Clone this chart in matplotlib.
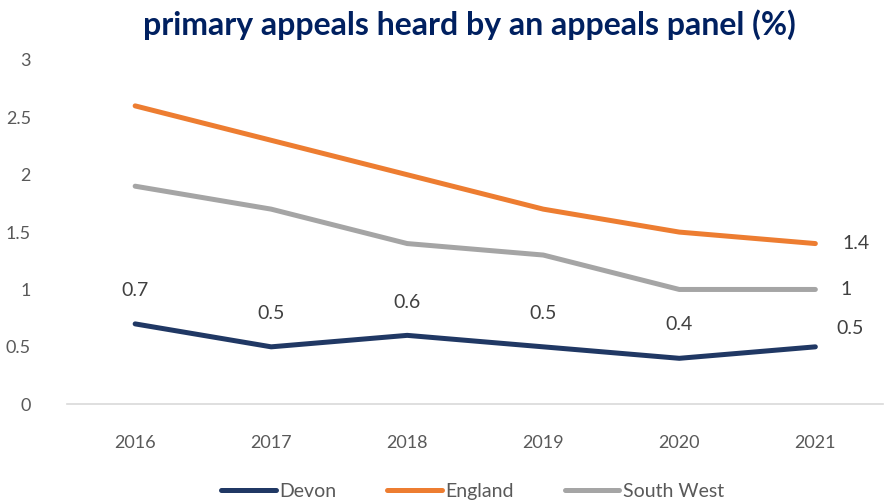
import numpy as np
import matplotlib.pyplot as plt

plt.rcParams['font.family'] = ['Lato', 'DejaVu Sans']

years = ["2016", "2017", "2018", "2019", "2020", "2021"]
devon = [0.7, 0.5, 0.6, 0.5, 0.4, 0.5]
england = [2.6, 2.3, 2.0, 1.7, 1.5, 1.4]
south_west = [1.9, 1.7, 1.4, 1.3, 1.0, 1.0]

navy = "#203864"
orange = "#ED7D31"
grey = "#A5A5A5"
text_col = "#595959"

fig = plt.figure(figsize=(8.95, 5.04), dpi=100)
ax = fig.add_axes([0.075, 0.198, 0.912, 0.683])

x = np.arange(len(years))
ax.plot(x, devon, color=navy, lw=3.6, solid_capstyle="round", label="Devon")
ax.plot(x, england, color=orange, lw=3.6, solid_capstyle="round", label="England")
ax.plot(x, south_west, color=grey, lw=3.6, solid_capstyle="round", label="South West")

# data labels
lbl = dict(ha="center", va="center", fontsize=14, color="#404040", textcoords="offset points")
for i, v in enumerate(devon[:-1]):
    ax.annotate(f"{v:g}", (x[i], v), xytext=(0, 24), **lbl)
ax.annotate(f"{devon[-1]:g}", (x[-1], devon[-1]), xytext=(25, 13), **lbl)
ax.annotate(f"{england[-1]:g}", (x[-1], england[-1]), xytext=(29, 0), **lbl)
ax.annotate(f"{south_west[-1]:g}", (x[-1], south_west[-1]), xytext=(22, 0), **lbl)

ax.set_xlim(-0.5, len(years) - 0.5)
ax.set_ylim(0, 3)
ax.set_yticks(np.arange(0, 3.01, 0.5))
ax.set_yticklabels(["0", "0.5", "1", "1.5", "2", "2.5", "3"])
ax.set_xticks(x)
ax.set_xticklabels(years)
ax.tick_params(axis="both", length=0, labelsize=13, colors=text_col)
ax.tick_params(axis="x", pad=22)
ax.tick_params(axis="y", pad=26)

for s in ["top", "right", "left"]:
    ax.spines[s].set_visible(False)
ax.spines["bottom"].set_color("#D9D9D9")
ax.spines["bottom"].set_linewidth(1.2)

fig.text(0.524, 0.952, "primary appeals heard by an appeals panel (%)", ha="center", va="center",
         fontsize=23, fontweight="bold", color="#002060")

fig.legend(loc="center", bbox_to_anchor=(0.528, 0.025), ncol=3, frameon=False, fontsize=14,
           handlelength=2.8, columnspacing=2.6, handletextpad=0.2, labelcolor=text_col)

fig.savefig("out.png", dpi=100)
